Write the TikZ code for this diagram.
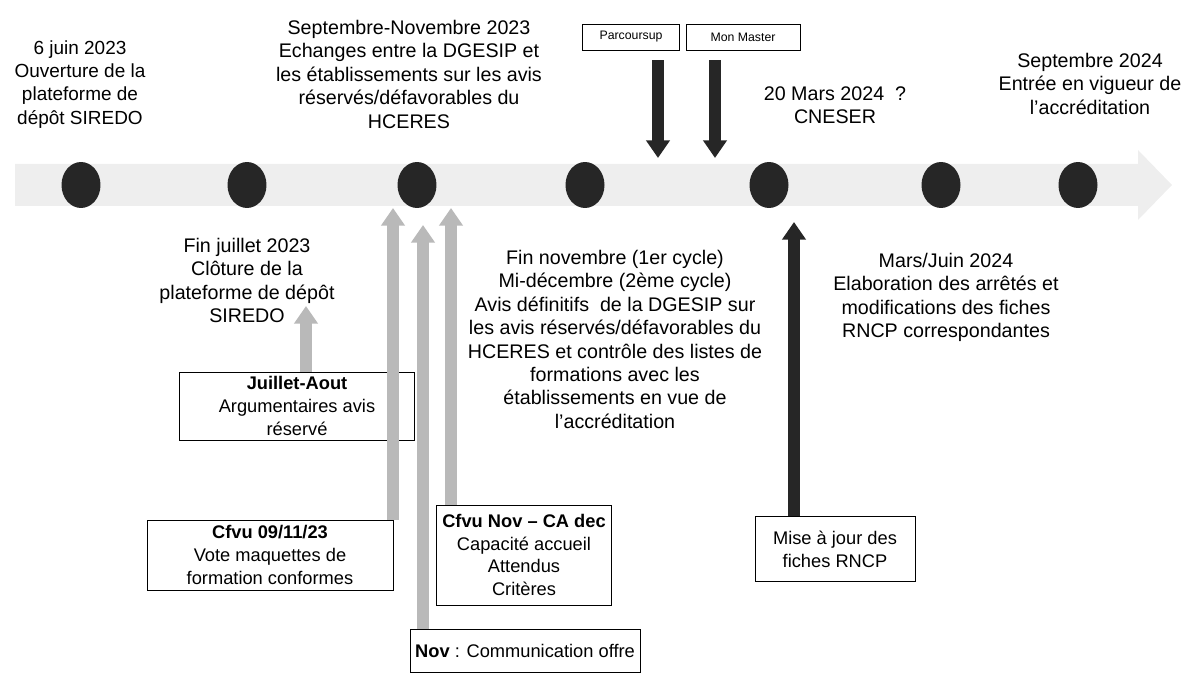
\documentclass[tikz,border=0pt]{standalone}
\usepackage{fontspec}
\setmainfont{Liberation Sans}
\usetikzlibrary{arrows.meta}
\usetikzlibrary{calc,shapes.geometric}

\begin{document}
\begin{tikzpicture}[x=0.02cm, y=-0.02cm,
    font=\fontsize{11.2}{13.3}\selectfont,
    txt/.style={align=center, inner sep=0pt, anchor=north},
    box/.style={draw, thin, align=center, inner sep=1pt, font=\fontsize{10.4}{13}\selectfont},
    dot/.style={ellipse, fill=black!85, inner sep=0pt, minimum width=0.78cm, minimum height=0.92cm},
    grayarr/.style={line width=7pt, draw=gray!55, -{Triangle[width=13pt,length=10pt]}},
    darkarr/.style={line width=7pt, draw=black!85, -{Triangle[width=13pt,length=10pt]}}]
    \useasboundingbox (0,0) rectangle (1184,675);

    % timeline
    \fill[gray!13] (15,164) -- (1138,164) -- (1138,150) -- (1172,185) -- (1138,220) -- (1138,206) -- (15,206) -- cycle;
    \node[dot] (d1) at (81,185) {};
    \node[dot] (d2) at (247,185) {};
    \node[dot] (d3) at (417,185) {};
    \node[dot] (d4) at (585,185) {};
    \node[dot] (d5) at (769,185) {};
    \node[dot] (d6) at (941,185) {};
    \node[dot] (d7) at (1078,185) {};

    % labels above
    \node[txt, font=\fontsize{10.8}{13.3}\selectfont] (t1) at (80,40) {6 juin 2023\\Ouverture de la\\plateforme de\\dépôt SIREDO};
    \node[txt] (t2) at (409,20) {Septembre-Novembre 2023\\Echanges entre la DGESIP et\\les établissements sur les avis\\réservés/défavorables du\\HCERES};
    \node[txt] (t3) at (835,86) {20 Mars 2024 \ ?\\CNESER};
    \node[txt] (t4) at (1090,53) {Septembre 2024\\Entrée en vigueur de\\l'accréditation};

    \node[box, font=\fontsize{7}{8}\selectfont, minimum width=1.94cm, minimum height=0.52cm] (parc) at (631,37) {Parcoursup};
    \node[box, font=\fontsize{7}{8}\selectfont, minimum width=2.28cm, minimum height=0.52cm] (mast) at (743,37) {Mon Master};
    \coordinate (pA) at (658,158);
    \coordinate (pB) at (715,158);
    \draw[darkarr, shorten <=0.2cm] (parc.south -| pA) -- (pA);
    \draw[darkarr, shorten <=0.2cm] (mast.south -| pB) -- (pB);

    % labels below
    \node[txt] (b1) at (247,238) {Fin juillet 2023\\Clôture de la\\plateforme de dépôt\\SIREDO};
    \node[txt] (b2) at (615,250) {Fin novembre (1er cycle)\\Mi-décembre (2ème cycle)\\Avis définitifs \ de la DGESIP sur\\les avis réservés/défavorables du\\HCERES et contrôle des listes de\\formations avec les\\établissements en vue de\\l'accréditation};
    \node[txt] (b3) at (946,253) {Mars/Juin 2024\\Elaboration des arrêtés et\\modifications des fiches\\RNCP correspondantes};

    \node[box, minimum width=4.7cm, minimum height=1.36cm] (juil) at (297,406) {\textbf{Juillet-Aout}\\Argumentaires avis\\réservé};
    \node[box, minimum width=4.92cm, minimum height=1.4cm] (cfvu) at (270,555) {\textbf{Cfvu 09/11/23}\\Vote maquettes de\\formation conformes};
    \node[box, minimum width=3.5cm, minimum height=2cm] (cfnov) at (524,555) {\textbf{Cfvu Nov -- CA dec}\\Capacité accueil\\Attendus\\Critères};
    \node[box, minimum width=4.6cm, minimum height=0.86cm] (nov) at (525,651) {\textbf{Nov} : Communication offre};
    \node[box, minimum width=3.2cm, minimum height=1.3cm] (maj) at (835,549) {Mise à jour des\\fiches RNCP};

    \coordinate (uA) at (306,306);
    \coordinate (uB) at (393,208);
    \coordinate (uC) at (423,225);
    \coordinate (uD) at (451,208);
    \coordinate (uE) at (794,222);
    \draw[grayarr] (juil.north -| uA) -- (uA);
    \draw[grayarr] (cfvu.north -| uB) -- (uB);
    \draw[grayarr] (nov.north -| uC) -- (uC);
    \draw[grayarr] (cfnov.north -| uD) -- (uD);
    \draw[darkarr] (maj.north -| uE) -- (uE);
\end{tikzpicture}
\end{document}
